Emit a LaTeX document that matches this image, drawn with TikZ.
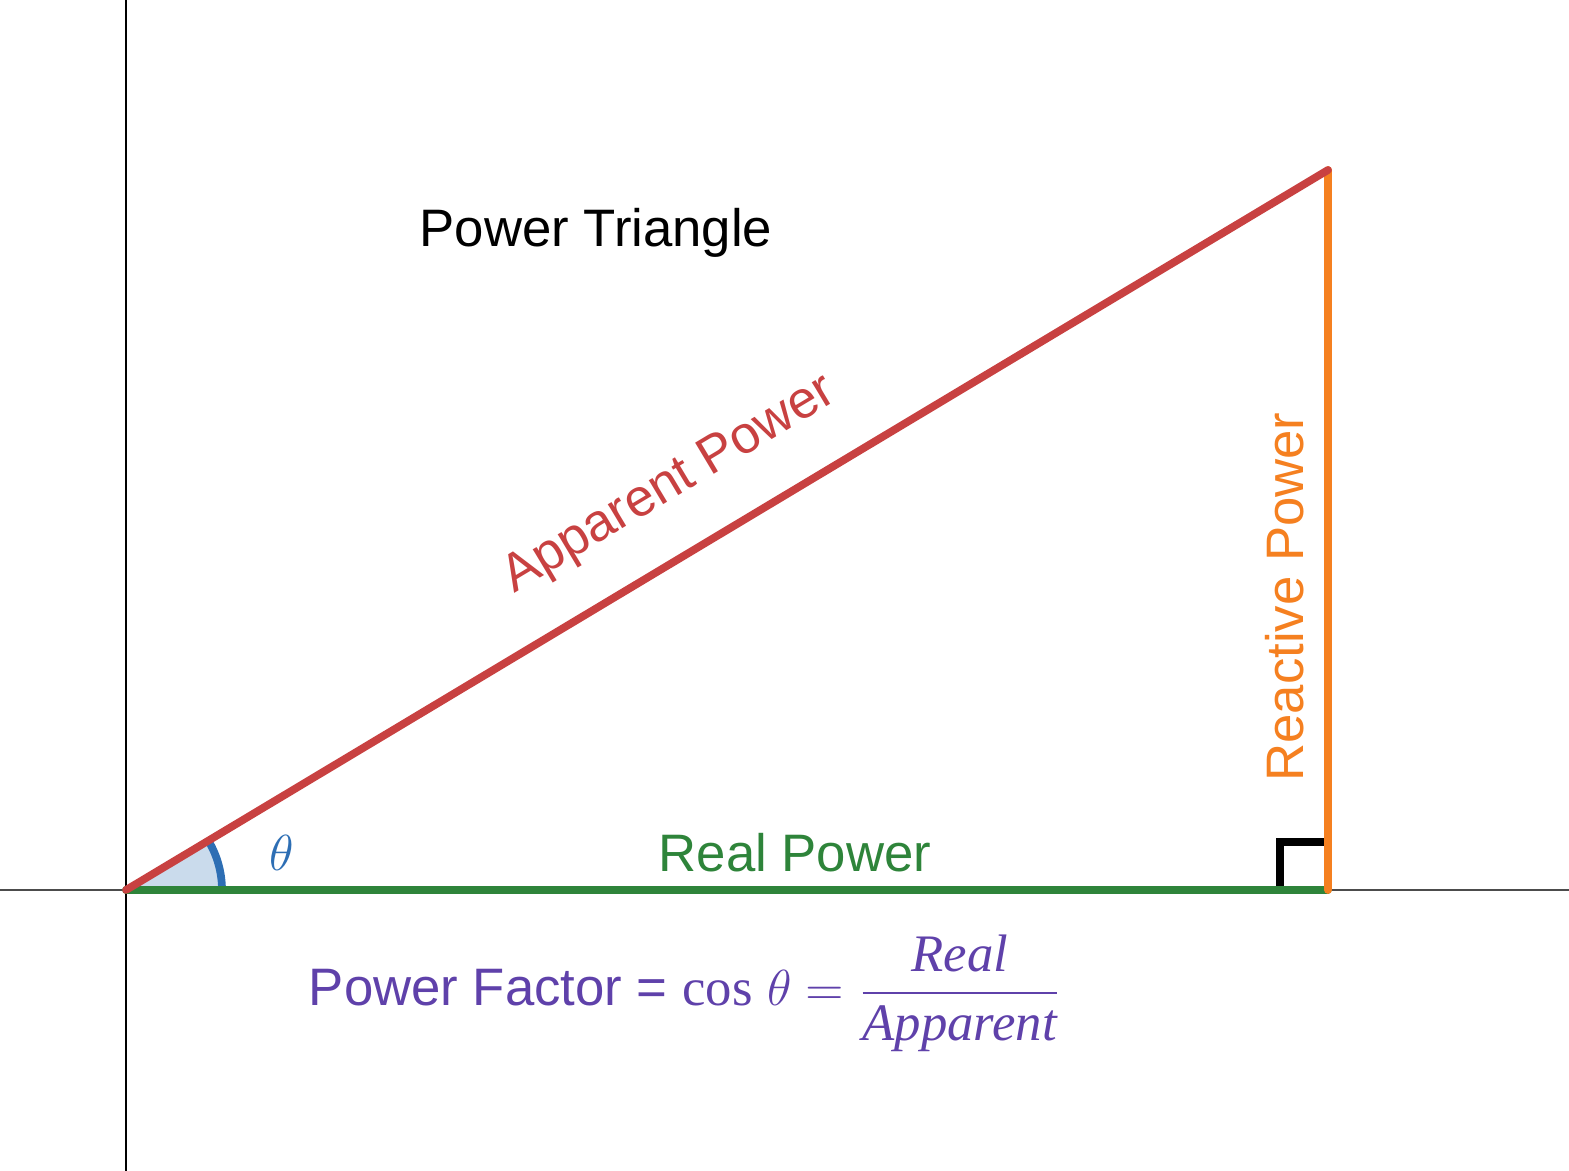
\documentclass[tikz,border=0pt]{standalone}
\usepackage{amsmath}
\usepackage{fontspec}
\setmainfont{Liberation Sans}
\newfontfamily\seriffont{Liberation Serif}
\usepackage{tikz}
\definecolor{appred}{RGB}{200,65,65}
\definecolor{realgreen}{RGB}{46,132,58}
\definecolor{reactorange}{RGB}{245,128,32}
\definecolor{angblue}{RGB}{45,110,180}
\definecolor{pfpurple}{RGB}{95,65,170}
\tikzset{
	side/.style = {line width=2.2pt, line cap=round},
	lbl/.style = {font=\fontsize{15}{18}\selectfont}
}
\begin{document}
\begin{tikzpicture}[x=1cm, y=1cm]
	\useasboundingbox (0,0) rectangle (15.69,11.71);
	% axes
	\coordinate (xl) at (0,2.81);
	\coordinate (xr) at (15.69,2.81);
	\coordinate (yb) at (1.26,0);
	\coordinate (yt) at (1.26,11.71);
	\draw[black!70, line width=.5pt] (xl) -- (xr);
	\draw[line width=.5pt] (yb) -- (yt);
	% triangle corners
	\coordinate (O) at (1.26,2.81);
	\coordinate (R) at (13.28,2.81);
	\coordinate (T) at (13.28,10.01);
	\coordinate (A) at (2.22,2.81);
	% angle
	\fill[angblue!25] (O) -- (A) arc (0:30.9:.96) -- cycle;
	\draw[angblue, line width=2.2pt] (A) arc (0:30.9:.96);
	% right angle
	\draw[black, line width=2.5pt] (12.8,2.81) -- (12.8,3.29) -- (13.28,3.29);
	\draw[side, realgreen] (O) -- (R);
	\draw[side, reactorange] (R) -- (T);
	\draw[side, appred] (O) -- (T);
	\node[lbl] (title) at (5.96,9.38) {Power Triangle};
	\node[lbl, appred, rotate=30.9] (app) at (6.7,6.85) {Apparent Power};
	\node[lbl, reactorange, rotate=90] (react) at (12.85,5.74) {Reactive Power};
	\node[lbl, realgreen] (real) at (7.95,3.18) {Real Power};
	\node[lbl, angblue] (theta) at (2.82,3.18) {$\theta$};
	\node[lbl, pfpurple] (pf) at (6.85,1.78)
		{Power Factor = {\seriffont cos} $\theta = \dfrac{\text{\seriffont\itshape Real}}{\text{\seriffont\itshape Apparent}}$};
\end{tikzpicture}
\end{document}
